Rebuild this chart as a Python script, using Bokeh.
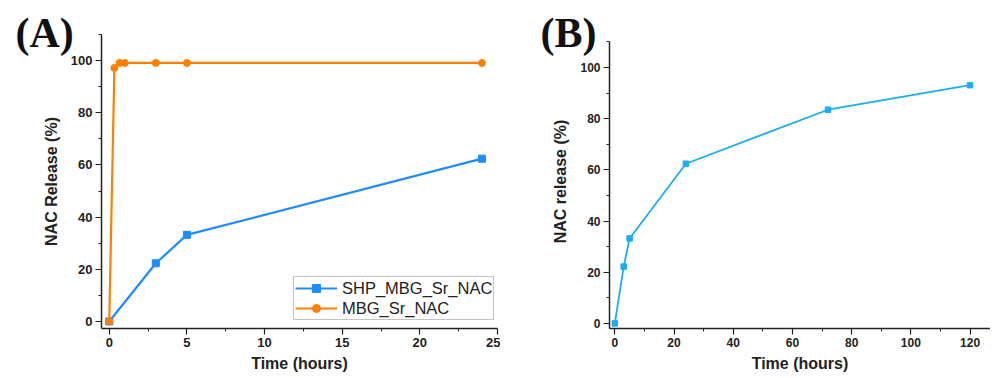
from bokeh.plotting import figure
from bokeh.layouts import row
from bokeh.models import Range1d, FixedTicker, Legend, LegendItem, Title
from bokeh.embed import file_html
from bokeh.resources import INLINE

# Panel A data
time_a_shp = [0, 3, 5, 24]
release_a_shp = [0, 22.3, 33.2, 62.4]
time_a_mbg = [0, 0.33, 0.67, 1, 3, 5, 24]
release_a_mbg = [0, 97.2, 99.1, 99.1, 99.1, 99.1, 99.1]
xticks_a = [0, 5, 10, 15, 20, 25]
yticks = [0, 20, 40, 60, 80, 100]

# Panel B data
time_b = [0, 3, 5, 24, 72, 120]
release_b = [0, 22.2, 33.2, 62.4, 83.5, 93.1]
xticks_b = [0, 20, 40, 60, 80, 100, 120]

BLUE_A = "#1E8CFF"
ORANGE = "#FF8000"
BLUE_B = "#1AAEF0"
FONT = "Liberation Sans"


def style(p, xt, xminor, yt, yminor, tick_size, label_size):
    p.grid.visible = False
    p.outline_line_color = None
    p.background_fill_color = "white"
    p.border_fill_color = "white"
    for ax in (p.xaxis[0], p.yaxis[0]):
        ax.axis_line_color = "#222222"
        ax.axis_line_width = 1.5
        ax.major_tick_line_color = "#222222"
        ax.minor_tick_line_color = "#222222"
        ax.major_tick_line_width = 1.2
        ax.minor_tick_line_width = 1.0
        ax.major_tick_in = 0
        ax.major_tick_out = 6
        ax.minor_tick_in = 0
        ax.minor_tick_out = 3
        ax.major_label_text_font = FONT
        ax.major_label_text_font_style = "bold"
        ax.major_label_text_font_size = tick_size
        ax.major_label_text_color = "#222222"
        ax.axis_label_text_font = FONT
        ax.axis_label_text_font_style = "bold"
        ax.axis_label_text_font_size = label_size
        ax.axis_label_text_color = "#222222"
    p.xaxis[0].ticker = FixedTicker(ticks=xt, minor_ticks=xminor)
    p.yaxis[0].ticker = FixedTicker(ticks=yt, minor_ticks=yminor)
    p.xaxis[0].major_label_standoff = 3
    p.xaxis[0].axis_label_standoff = 5
    p.yaxis[0].major_label_standoff = 3
    p.yaxis[0].axis_label_standoff = 8


def panel_tag(text, offset, standoff):
    return Title(text=text, align="left", offset=offset, standoff=standoff,
                 text_font="Liberation Serif", text_font_style="bold",
                 text_font_size="42px", text_color="#111111")


# ---- Panel A ----
pa = figure(frame_width=396, frame_height=294, output_backend="svg", toolbar_location=None,
            x_range=Range1d(-0.5, 25), y_range=Range1d(-2.7, 110),
            min_border_left=101, min_border_right=3, min_border_top=34, min_border_bottom=40,
            x_axis_label="Time (hours)", y_axis_label="NAC Release (%)")
style(pa, xticks_a, [2.5, 7.5, 12.5, 17.5, 22.5], yticks, [10, 30, 50, 70, 90, 110], "13px", "16px")
pa.xaxis[0].bounds = (-0.5, 25)
pa.yaxis[0].bounds = (-2.7, 110)

ls = pa.line(time_a_shp, release_a_shp, line_color=BLUE_A, line_width=2.2)
ms = pa.scatter(time_a_shp, release_a_shp, marker="square", size=7, fill_color=BLUE_A, line_color=BLUE_A)
lm = pa.line(time_a_mbg, release_a_mbg, line_color=ORANGE, line_width=2.2)
mm = pa.scatter(time_a_mbg, release_a_mbg, marker="circle", size=7, fill_color=ORANGE, line_color=ORANGE)

legend = Legend(items=[LegendItem(label="SHP_MBG_Sr_NAC", renderers=[ls, ms]),
                       LegendItem(label="MBG_Sr_NAC", renderers=[lm, mm])],
                location=(192, 8))
legend.label_text_font = FONT
legend.label_text_font_size = "16.5px"
legend.label_text_color = "#222222"
legend.glyph_width = 42
legend.glyph_height = 20
legend.label_height = 20
legend.spacing = 0
legend.padding = 1
legend.margin = 0
legend.label_standoff = 5
legend.border_line_color = "#888888"
legend.border_line_width = 1.2
legend.background_fill_alpha = 1
pa.add_layout(legend)
pa.add_layout(panel_tag("(A)", -86, -42), "above")

# ---- Panel B ----
pb = figure(frame_width=381, frame_height=294, output_backend="svg", toolbar_location=None,
            x_range=Range1d(-1.8, 126.9), y_range=Range1d(-2, 112.9),
            min_border_left=109, min_border_right=0, min_border_top=34, min_border_bottom=40,
            x_axis_label="Time (hours)", y_axis_label="NAC release (%)")
style(pb, xticks_b, [10, 30, 50, 70, 90, 110], yticks, [10, 30, 50, 70, 90, 110], "12px", "16px")
pb.xaxis[0].bounds = (-1.8, 126.9)
pb.yaxis[0].bounds = (-2, 110)
pb.line(time_b, release_b, line_color=BLUE_B, line_width=1.8)
pb.scatter(time_b, release_b, marker="square", size=5.5, fill_color=BLUE_B, line_color=BLUE_B)
pb.add_layout(panel_tag("(B)", -69, -42), "above")

layout = row(pa, pb, spacing=0)
open("out.html", "w").write(file_html(layout, INLINE))
